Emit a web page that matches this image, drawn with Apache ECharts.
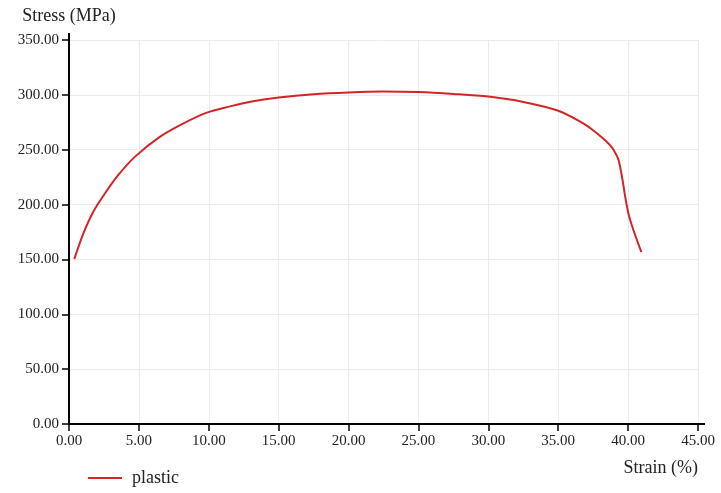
<!DOCTYPE html>
<html>
<head>
<meta charset="utf-8">
<script src="https://cdn.jsdelivr.net/npm/echarts@6/dist/echarts.min.js"></script>
<style>
html,body{margin:0;padding:0;background:#fff;}
#chart{width:721px;height:493px;}
</style>
</head>
<body>
<div id="chart"></div>
<script>
const seriesName = 'plastic';
const strain = [0.38,1.03,1.74,2.58,3.53,4.73,6.52,8.19,9.86,11.53,12.97,15,17.5,20,22.5,25,27.5,30,32.5,35,36.58,37.54,38.25,38.85,39.15,39.33,39.57,39.8,40.03,40.39,40.95];
const stress = [150.4,173.8,193.5,210.3,227,243.7,261.9,274,283.8,289.5,293.8,297.6,300.6,302.2,303,302.5,300.8,298.4,293.5,285.5,275.5,267.3,259.7,252,245.5,240,224.8,206.6,191.5,176.4,156.6];
const xName = 'Strain (%)';
const yName = 'Stress (MPa)';

const FONT = 'Liberation Serif';
const chart = echarts.init(document.getElementById('chart'));
const axisLineStyle = {color:'#000', width:2};
chart.setOption({
  animation:false,
  backgroundColor:'#fff',
  grid:{left:69, right:23, top:40, bottom:69, containLabel:false},
  legend:{
    left:83, top:464,
    icon:'rect', itemWidth:34, itemHeight:2,
    textStyle:{fontFamily:FONT, fontSize:18, color:'#222', padding:[0,0,0,5]},
    data:[seriesName]
  },
  xAxis:{
    type:'value', min:0, max:45, interval:5,
    name:xName, nameLocation:'end', nameGap:0,
    nameTextStyle:{fontFamily:FONT, fontSize:18, color:'#222', align:'right', verticalAlign:'top', padding:[35,0,0,0]},
    axisLine:{show:true, onZero:false, lineStyle:axisLineStyle},
    axisTick:{show:true, inside:false, length:7, lineStyle:{color:'#000', width:1.5}},
    axisLabel:{fontFamily:FONT, fontSize:15, color:'#222', margin:10, formatter:v=>v.toFixed(2)},
    splitLine:{show:true, lineStyle:{color:'#ebebeb', width:1}}
  },
  yAxis:{
    type:'value', min:0, max:350, interval:50,
    name:yName, nameLocation:'end', nameGap:15,
    nameTextStyle:{fontFamily:FONT, fontSize:18, color:'#222', align:'center', verticalAlign:'bottom'},
    axisLine:{show:true, onZero:false, lineStyle:axisLineStyle},
    axisTick:{show:true, inside:false, length:7, lineStyle:{color:'#000', width:1.5}},
    axisLabel:{fontFamily:FONT, fontSize:15, color:'#222', margin:10, formatter:v=>v.toFixed(2)},
    splitLine:{show:true, lineStyle:{color:'#ebebeb', width:1}}
  },
  series:[{
    name:seriesName, type:'line', symbol:'none', smooth:0.3,
    lineStyle:{color:'#d42426', width:2},
    itemStyle:{color:'#d42426'},
    data:strain.map((x,i)=>[x,stress[i]])
  }]
});
// small axis-line overshoots beyond the last tick, as in the reference
const p0 = chart.convertToPixel({gridIndex:0},[45,0]);
const p1 = chart.convertToPixel({gridIndex:0},[0,350]);
chart.setOption({graphic:[
  {type:'line', shape:{x1:p0[0], y1:p0[1], x2:p0[0]+7, y2:p0[1]}, style:{stroke:'#000', lineWidth:2}},
  {type:'line', shape:{x1:p1[0], y1:p1[1], x2:p1[0], y2:p1[1]-7}, style:{stroke:'#000', lineWidth:2}}
]});
</script>
</body>
</html>
